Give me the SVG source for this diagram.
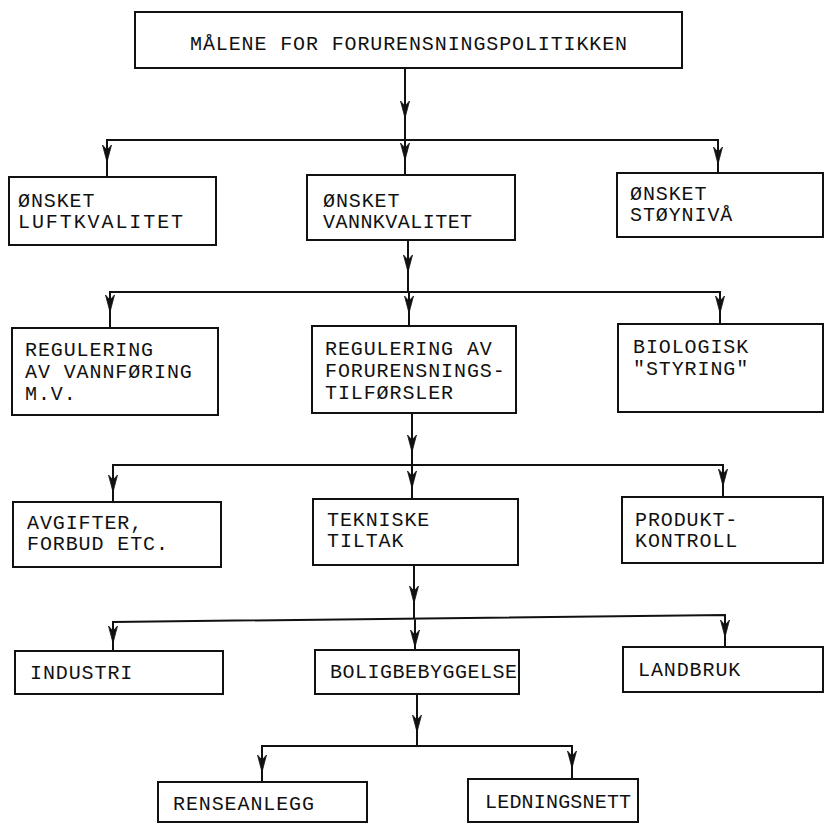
<svg xmlns="http://www.w3.org/2000/svg" width="825" height="824" viewBox="0 0 825 824">
<style>
.box{fill:#fff;stroke:#111;stroke-width:2}
.t{font-family:"Liberation Mono","DejaVu Sans Mono",monospace;font-size:20px;letter-spacing:0.9px;fill:#111}
.ln{fill:none;stroke:#111;stroke-width:2}
.ah{fill:#111;stroke:#111;stroke-width:0.8;stroke-linejoin:miter}
</style>
<defs>
<path id="a" d="M0,0 L-4.5,-17 L0,-12 L4.5,-17 Z"/>
</defs>
<rect width="825" height="824" fill="#fff"/>
<g id="connectors">
<path class="ln" d="M405,68 V140 M107,177 V140 H718 V173 M405,140 V175"/>
<path class="ln" d="M408,240 V292 M110,328 V292 H720 V324 M409,292 V326"/>
<path class="ln" d="M412,413 V465 M113,502 V465 H723 V497 M412,465 V499"/>
<path class="ln" d="M414,565 V619 M113,651 V622 L725,615 V647 M415,619 V650"/>
<path class="ln" d="M417,694 V746 M262,782 V746 H572 V779"/>
<use href="#a" class="ah" x="405" y="118"/>
<use href="#a" class="ah" x="107" y="162"/>
<use href="#a" class="ah" x="405" y="160"/>
<use href="#a" class="ah" x="718" y="164"/>
<use href="#a" class="ah" x="408" y="272"/>
<use href="#a" class="ah" x="110" y="312"/>
<use href="#a" class="ah" x="409" y="313"/>
<use href="#a" class="ah" x="720" y="313"/>
<use href="#a" class="ah" x="412" y="452"/>
<use href="#a" class="ah" x="113" y="492"/>
<use href="#a" class="ah" x="412" y="488"/>
<use href="#a" class="ah" x="723" y="486"/>
<use href="#a" class="ah" x="414" y="603"/>
<use href="#a" class="ah" x="113" y="643"/>
<use href="#a" class="ah" x="415" y="647"/>
<use href="#a" class="ah" x="725" y="637"/>
<use href="#a" class="ah" x="417" y="732"/>
<use href="#a" class="ah" x="262" y="772"/>
<use href="#a" class="ah" x="572" y="768"/>
</g>
<g id="n-top"><rect class="box" x="135" y="12" width="547" height="56"/><text class="t" x="190" y="50" textLength="438">MÅLENE FOR FORURENSNINGSPOLITIKKEN</text></g>
<g id="n-luft"><rect class="box" x="9" y="177" width="207" height="68"/><text class="t" x="18" y="207">ØNSKET</text><text class="t" x="18" y="228" textLength="166">LUFTKVALITET</text></g>
<g id="n-vann"><rect class="box" x="307" y="175" width="208" height="65"/><text class="t" x="323" y="207">ØNSKET</text><text class="t" x="323" y="228" textLength="150">VANNKVALITET</text></g>
<g id="n-stoy"><rect class="box" x="617" y="173" width="206" height="64"/><text class="t" x="630" y="200">ØNSKET</text><text class="t" x="630" y="221">STØYNIVÅ</text></g>
<g id="n-regvann"><rect class="box" x="12" y="328" width="206" height="87"/><text class="t" x="25" y="356">REGULERING</text><text class="t" x="25" y="378">AV VANNFØRING</text><text class="t" x="25" y="400">M.V.</text></g>
<g id="n-regforu"><rect class="box" x="312" y="326" width="204" height="87"/><text class="t" x="325" y="355">REGULERING AV</text><text class="t" x="325" y="377">FORURENSNINGS-</text><text class="t" x="325" y="399">TILFØRSLER</text></g>
<g id="n-bio"><rect class="box" x="618" y="324" width="205" height="88"/><text class="t" x="633" y="353">BIOLOGISK</text><text class="t" x="633" y="375">"STYRING"</text></g>
<g id="n-avg"><rect class="box" x="13" y="502" width="208" height="65"/><text class="t" x="27" y="529">AVGIFTER,</text><text class="t" x="27" y="550">FORBUD ETC.</text></g>
<g id="n-tekn"><rect class="box" x="313" y="499" width="205" height="66"/><text class="t" x="327" y="526">TEKNISKE</text><text class="t" x="327" y="547">TILTAK</text></g>
<g id="n-prod"><rect class="box" x="622" y="497" width="201" height="66"/><text class="t" x="635" y="526">PRODUKT-</text><text class="t" x="635" y="547">KONTROLL</text></g>
<g id="n-ind"><rect class="box" x="15" y="651" width="208" height="43"/><text class="t" x="30" y="679">INDUSTRI</text></g>
<g id="n-bolig"><rect class="box" x="315" y="650" width="204" height="44"/><text class="t" x="330" y="678" textLength="188">BOLIGBEBYGGELSE</text></g>
<g id="n-land"><rect class="box" x="623" y="647" width="200" height="45"/><text class="t" x="638" y="676">LANDBRUK</text></g>
<g id="n-rense"><rect class="box" x="158" y="782" width="209" height="40"/><text class="t" x="173" y="810">RENSEANLEGG</text></g>
<g id="n-ledn"><rect class="box" x="468" y="779" width="170" height="43"/><text class="t" x="485" y="808" textLength="147">LEDNINGSNETT</text></g>
</svg>
